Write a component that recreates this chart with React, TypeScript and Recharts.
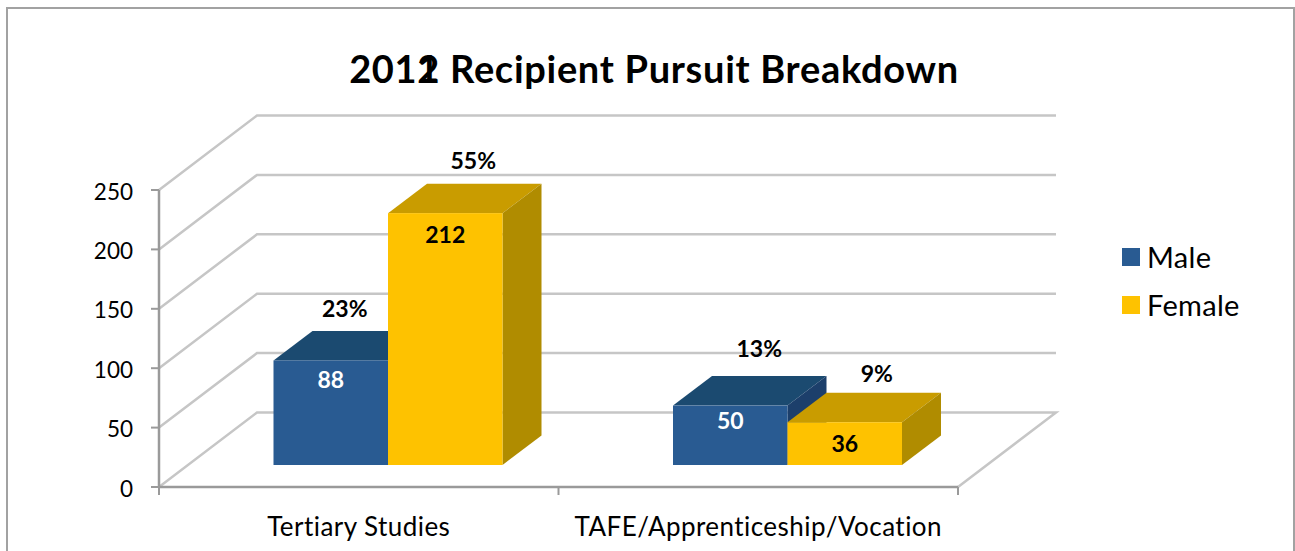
import React from "react";
import { BarChart, Bar, XAxis, YAxis, CartesianGrid, Legend } from "recharts";

const categories = ["Tertiary Studies", "TAFE/Apprenticeship/Vocation"];
const maleValues = [88, 50];
const femaleValues = [212, 36];
const malePercents = ["23%", "13%"];
const femalePercents = ["55%", "9%"];
const yTicks = [0, 50, 100, 150, 200, 250];

const data = categories.map((name, i) => ({
  name,
  male: maleValues[i],
  female: femaleValues[i],
  malePct: malePercents[i],
  femalePct: femalePercents[i],
}));

const FONT = "Lato, 'Noto Sans', sans-serif";
const GRID = "#c6c6c6";
const AXIS = "#9a9a9a";
const BACK_DX = 98;
const BACK_DY = -74.5;
const DEPTH_DX = 39;
const DEPTH_DY = -29.5;
const SHIFT_X = 29.5;
const SHIFT_Y = -22;

// label placement relative to the front face top: [value dy, pct dx, pct dy] per category
const MALE_LABELS = [[19, 14, -52], [14, 29, -58]];
const FEMALE_LABELS = [[21, 28, -53], [21, 32, -49]];

const make3DBar = (front: string, top: string, side: string, textColor: string, labels: number[][], pctKey: string, valueKey: string) =>
  (props: any) => {
    const { x, y, width, height, index, payload } = props;
    const X = x + SHIFT_X;
    const Y = y + SHIFT_Y;
    const [vdy, pdx, pdy] = labels[index];
    return (
      <g>
        <path d={`M${X},${Y} l${DEPTH_DX},${DEPTH_DY} h${width} l${-DEPTH_DX},${-DEPTH_DY} Z`} fill={top} />
        <path d={`M${X + width},${Y} l${DEPTH_DX},${DEPTH_DY} v${height} l${-DEPTH_DX},${-DEPTH_DY} Z`} fill={side} />
        <rect x={X} y={Y} width={width} height={height} fill={front} />
        <text x={X + width / 2} y={Y + vdy} textAnchor="middle" dominantBaseline="central" fontFamily={FONT} fontWeight={700} fontSize={23} fill={textColor}>
          {payload[valueKey]}
        </text>
        <text x={X + width / 2 + pdx} y={Y + pdy} textAnchor="middle" dominantBaseline="central" fontFamily={FONT} fontWeight={700} fontSize={23} fill="#000">
          {payload[pctKey]}
        </text>
      </g>
    );
  };

const MaleBar = make3DBar("#295b92", "#1b4a70", "#1c3f6b", "#fff", MALE_LABELS, "malePct", "male");
const FemaleBar = make3DBar("#fec200", "#c99c00", "#b08c00", "#000", FEMALE_LABELS, "femalePct", "female");

const gridLine = (props: any) => {
  const { x1, x2, y1, index } = props;
  const isFloor = index === 0;
  return (
    <g key={`grid-${index}`}>
      <polyline
        points={`${x1},${y1} ${x1 + BACK_DX},${y1 + BACK_DY} ${x2 + BACK_DX},${y1 + BACK_DY}${isFloor ? ` ${x2},${y1}` : ""}`}
        fill="none"
        stroke={GRID}
        strokeWidth={2.5}
      />
    </g>
  );
};

const YTick = (props: any) => {
  const { x, y, payload } = props;
  return (
    <text x={x - 16} y={y + 1} textAnchor="end" dominantBaseline="central" fontFamily={FONT} fontSize={22.5} fill="#000">
      {payload.value}
    </text>
  );
};

const XTick = (props: any) => {
  const { x, y, payload, index, width, visibleTicksCount } = props;
  const band = width / visibleTicksCount;
  const top = y - 8;
  return (
    <g>
      <line x1={x - band / 2} x2={x - band / 2} y1={top} y2={top + 8} stroke={AXIS} strokeWidth={2} />
      {index === visibleTicksCount - 1 && (
        <line x1={x + band / 2} x2={x + band / 2} y1={top} y2={top + 8} stroke={AXIS} strokeWidth={2} />
      )}
      <text x={x} y={y + 31} textAnchor="middle" dominantBaseline="central" fontFamily={FONT} fontSize={26} letterSpacing={0.45} fill="#000">
        {payload.value}
      </text>
    </g>
  );
};

const LegendBox = (props: any) => (
  <div style={{ fontFamily: FONT, fontSize: 29, letterSpacing: 0.3, color: "#000" }}>
    {props.payload.map((entry: any) => (
      <div key={entry.value} style={{ display: "flex", alignItems: "center", height: 48 }}>
        <span style={{ width: 18, height: 18, background: entry.color, marginRight: 7, display: "inline-block", position: "relative", top: 1 }} />
        <span>{entry.value}</span>
      </div>
    ))}
  </div>
);

export default function App() {
  return (
    <div style={{ position: "absolute", left: 0, top: 0, width: 1295, height: 551, overflow: "hidden", background: "#fff" }}>
      <div style={{ position: "absolute", left: 6, top: 7, width: 1285, height: 560, border: "2px solid #a2a2a2", boxSizing: "content-box" }} />
      <BarChart
        width={1295}
        height={551}
        data={data}
        barGap={0}
        barSize={114.5}
        margin={{ top: 190, right: 337, bottom: 14, left: 99 }}
        style={{ position: "absolute", left: 0, top: 0 }}
      >
        <text x={654} y={68} textAnchor="middle" dominantBaseline="central" fontFamily={FONT} fontWeight={700} fontSize={38} letterSpacing={0.7} fill="#000">
          2012 Recipient Pursuit Breakdown
        </text>
        <text x={417} y={68} textAnchor="start" dominantBaseline="central" fontFamily={FONT} fontWeight={700} fontSize={38} fill="#000">
          1
        </text>
        <CartesianGrid horizontal={gridLine} vertical={false} />
        <XAxis dataKey="name" height={50} interval={0} axisLine={{ stroke: AXIS, strokeWidth: 2.5 }} tickLine={false} tick={<XTick />} />
        <YAxis width={60} domain={[0, 250]} ticks={yTicks} axisLine={{ stroke: AXIS, strokeWidth: 2.5 }} tickLine={{ stroke: AXIS, strokeWidth: 2 }} tickSize={8} tick={<YTick />} />
        <Legend content={<LegendBox />} layout="vertical" verticalAlign="middle" align="center" itemSorter={null} wrapperStyle={{ position: "absolute", left: 1122, top: 232, width: 160 }} />
        <Bar dataKey="male" name="Male" fill="#295b92" shape={MaleBar} isAnimationActive={false} />
        <Bar dataKey="female" name="Female" fill="#fec200" shape={FemaleBar} isAnimationActive={false} />
      </BarChart>
    </div>
  );
}
